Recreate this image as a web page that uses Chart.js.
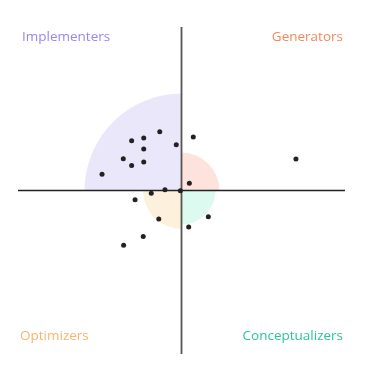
<!DOCTYPE html>
<html>
<head>
<meta charset="utf-8">
<script src="https://cdn.jsdelivr.net/npm/chart.js@4"></script>
<style>
html,body{margin:0;padding:0;background:#fff;}
#wrap{position:relative;width:372px;height:368px;}
</style>
</head>
<body>
<div id="wrap"><canvas id="c"></canvas></div>
<script>
// Data (x, y) in score units, axes cross at 0
const xValues = [-1.33, -3.05, -2.31, -2.31, 0.72, -0.32, -3.56, -2.31, -3.05, -4.86, 0.48, -1.01, -0.07, -1.85, -2.84, 1.64, -1.39, 0.44, -2.34, -3.54, 7.0];
const yValues = [3.6, 3.05, 3.21, 2.54, 3.27, 2.80, 1.94, 1.74, 1.53, 1.0, 0.44, 0.05, -0.01, -0.17, -0.57, -1.61, -1.74, -2.23, -2.82, -3.35, 1.92];
const quadrantNames = ["Implementers", "Generators", "Optimizers", "Conceptualizers"];
const quadrantRadii = [5.93, 2.32, 2.35, 2.08]; // TL, TR, BL, BR
const axisMin = -10, axisMax = 10;

const labelColors = ["#9a86f2", "#f4885c", "#f9b56c", "#2dc39c"];
const sectorColors = ["#ebe7fa", "#fde3dc", "#fdf0dc", "#ddfaf0"];

const points = xValues.map((x, i) => ({x: x, y: yValues[i]}));

const quadPlugin = {
  id: 'quad',
  beforeDatasetsDraw(chart) {
    const ctx = chart.ctx;
    const xs = chart.scales.x, ys = chart.scales.y;
    const cx = xs.getPixelForValue(0), cy = ys.getPixelForValue(0);
    const angles = [[Math.PI, 1.5*Math.PI],[1.5*Math.PI, 2*Math.PI],[0.5*Math.PI, Math.PI],[0, 0.5*Math.PI]];
    ctx.save();
    quadrantRadii.forEach((r, i) => {
      const rp = xs.getPixelForValue(r) - cx;
      ctx.beginPath();
      ctx.moveTo(cx, cy);
      ctx.arc(cx, cy, rp, angles[i][0], angles[i][1]);
      ctx.closePath();
      ctx.fillStyle = sectorColors[i];
      ctx.fill();
    });
    const a = chart.chartArea;
    ctx.lineWidth = 1.6;
    ctx.strokeStyle = '#222';
    ctx.beginPath();
    ctx.moveTo(a.left, cy); ctx.lineTo(a.right, cy);
    ctx.stroke();
    ctx.strokeStyle = '#555';
    ctx.lineWidth = 1.8;
    ctx.beginPath();
    ctx.moveTo(cx, a.top); ctx.lineTo(cx, a.bottom);
    ctx.stroke();
    ctx.restore();
  },
  afterDraw(chart) {
    const ctx = chart.ctx;
    const a = chart.chartArea;
    ctx.save();
    ctx.font = '13.5px "Open Sans", sans-serif';
    ctx.textBaseline = 'middle';
    ctx.fillStyle = labelColors[0]; ctx.textAlign = 'left';
    ctx.fillText(quadrantNames[0], a.left + 4, a.top + 10);
    ctx.fillStyle = labelColors[1]; ctx.textAlign = 'right';
    ctx.fillText(quadrantNames[1], a.right - 2, a.top + 10);
    ctx.fillStyle = labelColors[2]; ctx.textAlign = 'left';
    ctx.fillText(quadrantNames[2], a.left + 2, a.bottom - 18);
    ctx.fillStyle = labelColors[3]; ctx.textAlign = 'right';
    ctx.fillText(quadrantNames[3], a.right - 2, a.bottom - 18);
    ctx.restore();
  }
};

new Chart(document.getElementById('c'), {
  type: 'scatter',
  data: { datasets: [{ data: points, backgroundColor: '#222', borderColor: '#222', pointRadius: 2.5, borderWidth: 0 }] },
  options: {
    responsive: true,
    maintainAspectRatio: false,
    animation: false,
    layout: { padding: { left: 18, right: 27, top: 27, bottom: 14 } },
    plugins: { legend: { display: false }, tooltip: { enabled: false } },
    scales: {
      x: { display: false, min: axisMin, max: axisMax },
      y: { display: false, min: axisMin, max: axisMax }
    }
  },
  plugins: [quadPlugin]
});
</script>
</body>
</html>
